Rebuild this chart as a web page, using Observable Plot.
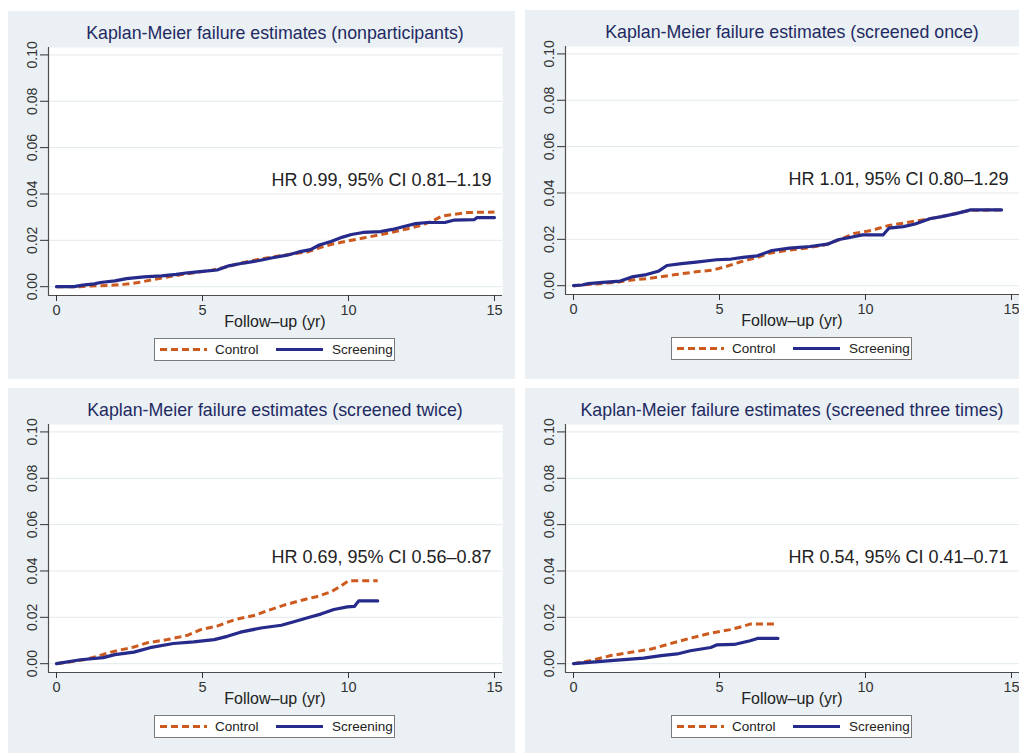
<!DOCTYPE html>
<html>
<head>
<meta charset="utf-8">
<script src="https://cdn.jsdelivr.net/npm/d3@7"></script>
<script src="https://cdn.jsdelivr.net/npm/@observablehq/plot@0.6"></script>
<style>
  html, body { margin: 0; padding: 0; background: #ffffff; }
  body { width: 1019px; height: 753px; position: relative; overflow: hidden;
         font-family: "Liberation Sans", Arial, sans-serif; }
  .panel { position: absolute; background: #eaf0f3; overflow: hidden; }
  .panel svg.plotsvg { position: absolute; left: 0; top: 0; }
  .title { position: absolute; left: 40px; width: 454px; text-align: center; color: #1f2a63;
           font-size: 17.8px; line-height: 20px; top: 12px; white-space: nowrap; }
  .xlabel { position: absolute; left: 40px; width: 454px; text-align: center; color: #222;
            font-size: 16px; line-height: 18px; top: 302px; white-space: nowrap; }
  .legend { position: absolute; left: 146px; top: 327px; width: 241px; height: 23px; box-sizing: border-box;
            background: #fff; border: 1px solid #7a7a7a; }
  .legend svg { position: absolute; left: 0; top: 0; }
</style>
</head>
<body>
<script>
// ---------- data (failure probability by follow-up year) ----------
const xTicks = [0, 5, 10, 15];
const yTicks = [0, 0.02, 0.04, 0.06, 0.08, 0.10];
const seriesNames = ["Control", "Screening"];
const titles = [
  "Kaplan-Meier failure estimates (nonparticipants)",
  "Kaplan-Meier failure estimates (screened once)",
  "Kaplan-Meier failure estimates (screened twice)",
  "Kaplan-Meier failure estimates (screened three times)"
];
const hrLabels = [
  "HR 0.99, 95% CI 0.81\u20131.19",
  "HR 1.01, 95% CI 0.80\u20131.29",
  "HR 0.69, 95% CI 0.56\u20130.87",
  "HR 0.54, 95% CI 0.41\u20130.71"
];

const nonpartControl = [[0,0],[0.8,0],[1.2,0.0003],[1.8,0.0005],[2.3,0.001],[2.8,0.0018],[3.3,0.003],[3.8,0.0042],[4.3,0.0052],[4.8,0.0062],[5.3,0.007],[5.7,0.0082],[6.1,0.0095],[6.6,0.011],[7.1,0.0122],[7.6,0.0132],[8.1,0.0142],[8.6,0.015],[9.0,0.0168],[9.5,0.0185],[10.0,0.0198],[10.5,0.021],[11.0,0.0222],[11.5,0.0235],[12.0,0.0249],[12.5,0.0265],[12.9,0.0285],[13.2,0.0305],[13.6,0.0312],[14.1,0.032],[15.0,0.0322]];
const nonpartScreening = [[0,0],[0.6,0],[0.9,0.0007],[1.3,0.0012],[1.5,0.0018],[2.0,0.0025],[2.4,0.0035],[3.0,0.0042],[3.6,0.0047],[4.1,0.0053],[4.5,0.006],[5.0,0.0066],[5.5,0.0072],[5.9,0.009],[6.4,0.0102],[6.9,0.0112],[7.4,0.0125],[7.9,0.0136],[8.3,0.015],[8.7,0.016],[9.0,0.018],[9.4,0.0195],[9.8,0.0214],[10.1,0.0225],[10.5,0.0234],[11.1,0.0238],[11.5,0.0247],[11.9,0.026],[12.3,0.0272],[12.7,0.0277],[13.3,0.0277],[13.6,0.0287],[14.3,0.0289],[14.4,0.0298],[15.0,0.0298]];

const onceControl = [[0,0],[0.5,0.0005],[1.0,0.001],[1.5,0.0015],[2.0,0.0025],[2.5,0.003],[2.9,0.0037],[3.5,0.0048],[4.2,0.006],[4.8,0.0068],[5.2,0.0082],[5.7,0.0102],[6.3,0.0122],[6.7,0.014],[7.3,0.0152],[8.0,0.0163],[8.6,0.0176],[9.1,0.0198],[9.6,0.0225],[10.2,0.0238],[10.8,0.026],[11.4,0.0272],[12.0,0.0285],[12.6,0.0298],[13.2,0.0315],[13.6,0.0325],[14.66,0.0327]];
const onceScreening = [[0,0],[0.3,0.0003],[0.5,0.0009],[1.0,0.0014],[1.6,0.002],[2.0,0.0038],[2.5,0.0048],[2.9,0.0062],[3.2,0.0087],[3.7,0.0095],[4.2,0.0102],[4.9,0.0112],[5.4,0.0115],[5.8,0.0122],[6.3,0.0129],[6.8,0.0152],[7.4,0.0162],[8.1,0.0169],[8.7,0.0179],[9.06,0.0198],[9.5,0.0209],[9.9,0.0219],[10.6,0.0219],[10.8,0.0248],[11.3,0.0255],[11.7,0.0266],[12.2,0.0289],[12.6,0.0298],[13.1,0.0311],[13.6,0.0327],[14.66,0.0327]];

const twiceControl = [[0,0],[0.95,0.0017],[1.4,0.0032],[1.86,0.005],[2.65,0.0072],[3.1,0.009],[3.8,0.0104],[4.5,0.0123],[4.94,0.0147],[5.5,0.0162],[6.1,0.019],[6.8,0.0209],[7.2,0.0228],[7.8,0.0253],[8.4,0.0274],[8.9,0.0289],[9.4,0.031],[9.7,0.0332],[10.0,0.0358],[11.0,0.0358]];
const twiceScreening = [[0,0],[0.83,0.0017],[1.6,0.0026],[2.0,0.0039],[2.65,0.005],[3.2,0.0069],[4.0,0.0087],[4.7,0.0094],[5.4,0.0104],[5.85,0.0118],[6.3,0.0136],[7.0,0.0154],[7.7,0.0166],[8.1,0.018],[8.6,0.0198],[9.05,0.0214],[9.5,0.0234],[9.96,0.0245],[10.2,0.0247],[10.35,0.0271],[11.0,0.0271]];

const threeControl = [[0,0],[0.6,0.0014],[1.28,0.0035],[1.96,0.0049],[2.65,0.0063],[3.3,0.0086],[4.0,0.011],[4.7,0.0132],[5.37,0.0147],[5.8,0.0161],[6.05,0.0171],[7.0,0.0171]];
const threeScreening = [[0,0],[1.28,0.0013],[2.4,0.0024],[3.0,0.0035],[3.55,0.0042],[4.0,0.0056],[4.7,0.007],[4.9,0.0081],[5.5,0.0083],[6.05,0.0099],[6.3,0.0109],[7.0,0.0109]];

// ---------- styles ----------
const controlColor = "#cc5a1e";
const screenColor = "#262a8a";
const dash = "7,4";

const panels = [
  {title: titles[0], hr: hrLabels[0], control: nonpartControl, screening: nonpartScreening, left: 8,   top: 11,  w: 507, h: 368},
  {title: titles[1], hr: hrLabels[1], control: onceControl,    screening: onceScreening,    left: 525, top: 10,  w: 494, h: 369},
  {title: titles[2], hr: hrLabels[2], control: twiceControl,   screening: twiceScreening,   left: 8,   top: 388, w: 507, h: 365},
  {title: titles[3], hr: hrLabels[3], control: threeControl,   screening: threeScreening,   left: 525, top: 388, w: 494, h: 365}
];

const xDomain = [-0.274, 15.274];
const yDomain = [-0.0038, 0.1032];
const frameW = 454, frameH = 248, mL = 40, mT = 36;

for (const p of panels) {
  const div = document.createElement("div");
  div.className = "panel";
  Object.assign(div.style, {left: p.left + "px", top: p.top + "px", width: p.w + "px", height: p.h + "px"});
  document.body.appendChild(div);

  const plot = Plot.plot({
    width: p.w,
    height: p.h,
    marginLeft: mL,
    marginTop: mT,
    marginRight: p.w - mL - frameW,
    marginBottom: p.h - mT - frameH,
    style: {background: "transparent", fontFamily: "'Liberation Sans', Arial, sans-serif", overflow: "visible"},
    x: {domain: xDomain, label: null},
    y: {domain: yDomain, label: null},
    marks: [
      Plot.frame({fill: "white", stroke: null}),
      Plot.ruleY(yTicks, {stroke: "#e2eaed", strokeWidth: 1}),
      Plot.ruleX([xDomain[0]], {stroke: "#4d4d4d", strokeWidth: 1.2}),
      Plot.ruleY([yDomain[0]], {stroke: "#4d4d4d", strokeWidth: 1.2}),
      Plot.axisX({ticks: xTicks, tickSize: 6, tickPadding: 3, fontSize: 14.5, color: "#333", label: null, tickFormat: d => String(d)}),
      Plot.axisY({ticks: yTicks, tickSize: 8, tickPadding: 4, tickRotate: -90, fontSize: 14, color: "#333", label: null, tickFormat: d3.format(".2f")}),
      Plot.line(p.control, {x: d => d[0], y: d => d[1], stroke: controlColor, strokeWidth: 3, strokeDasharray: dash, strokeLinecap: "butt"}),
      Plot.line(p.screening, {x: d => d[0], y: d => d[1], stroke: screenColor, strokeWidth: 3.2}),
      Plot.text([p.hr], {x: 14.9, y: 0.046, text: d => d, textAnchor: "end", fontSize: 18, fill: "#222"})
    ]
  });
  plot.classList.add("plotsvg");
  div.appendChild(plot);

  const t = document.createElement("div");
  t.className = "title";
  t.textContent = p.title;
  div.appendChild(t);

  const xl = document.createElement("div");
  xl.className = "xlabel";
  xl.textContent = "Follow\u2013up (yr)";
  div.appendChild(xl);

  const lg = document.createElement("div");
  lg.className = "legend";
  lg.innerHTML =
    `<svg width="239" height="21" xmlns="http://www.w3.org/2000/svg" style="font-family:'Liberation Sans',Arial,sans-serif">
       <line x1="5" x2="52" y1="10.5" y2="10.5" stroke="${controlColor}" stroke-width="3" stroke-dasharray="${dash}"/>
       <text x="60" y="15" font-size="13.5" fill="#222">${seriesNames[0]}</text>
       <line x1="121" x2="168" y1="10.5" y2="10.5" stroke="${screenColor}" stroke-width="3"/>
       <text x="177" y="15" font-size="13.5" fill="#222">${seriesNames[1]}</text>
     </svg>`;
  div.appendChild(lg);
}
</script>
</body>
</html>
